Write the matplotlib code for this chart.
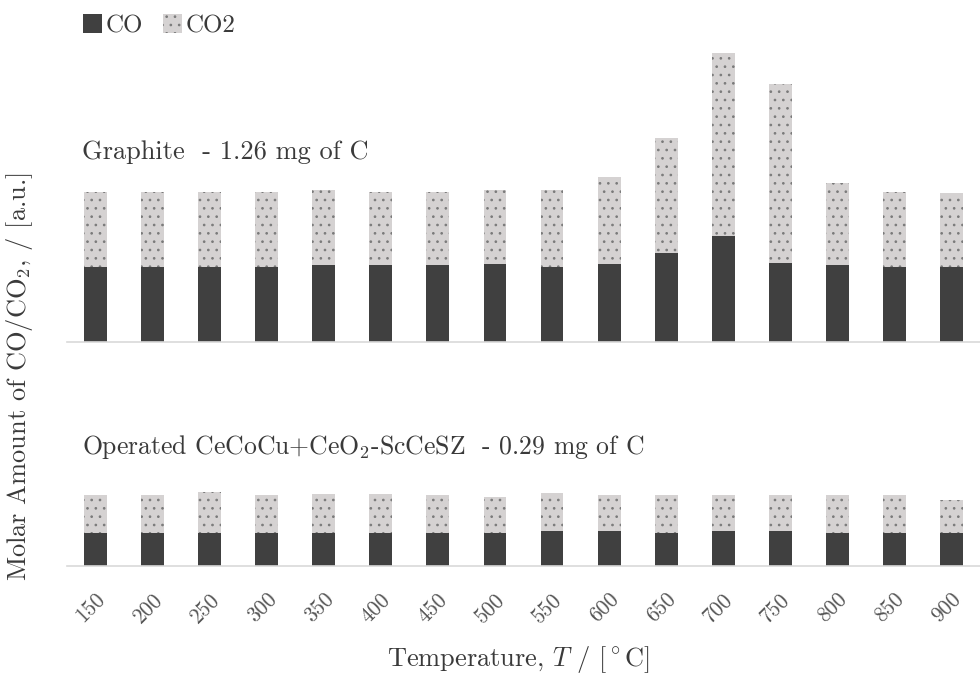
import numpy as np
import matplotlib
matplotlib.use("Agg")
import matplotlib.pyplot as plt
from matplotlib.patches import Patch

plt.rcParams['font.family'] = ['cmr10', 'DejaVu Serif']
plt.rcParams['mathtext.fontset'] = 'cm'
plt.rcParams['axes.formatter.use_mathtext'] = True
plt.rcParams['hatch.linewidth'] = 0.7

# temperatures (x categories)
temps = ['150', '200', '250', '300', '350', '400', '450', '500',
         '550', '600', '650', '700', '750', '800', '850', '900']

# graphite - 1.26 mg of C (arbitrary units)
co_graphite = [75, 75, 75, 75, 77, 77, 77, 78, 75, 78, 89, 106, 79, 77, 75, 75]
co2_graphite = [75, 75, 75, 75, 75, 73, 73, 74, 77, 87, 115, 183, 179, 82, 75, 74]

# operated CeCoCu+CeO2-ScCeSZ - 0.29 mg of C
co_operated = [33, 33, 33, 33, 33, 33, 33, 33, 35, 35, 33, 35, 35, 33, 33, 33]
co2_operated = [38, 38, 41, 38, 39, 39, 38, 36, 38, 36, 38, 36, 36, 38, 38, 33]

c_co = '#404040'
c_co2 = '#d5d2d2'
c_dots = '#7a7a7a'
c_text = '#3a3a3a'

fig = plt.figure(figsize=(9.8, 6.8), dpi=100)
left = 67 / 980
width = 1 - left
ax1 = fig.add_axes([left, 1 - 342 / 680, width, 302 / 680])
ax2 = fig.add_axes([left, 1 - 566 / 680, width, 130 / 680])

x = np.arange(len(temps))
bw = 0.4

for ax, co, co2, top in [(ax1, co_graphite, co2_graphite, 302),
                         (ax2, co_operated, co2_operated, 130)]:
    ax.bar(x, co, bw, color=c_co, linewidth=0)
    ax.bar(x, co2, bw, bottom=co, color=c_co2, edgecolor=c_dots,
           hatch='..', linewidth=0)
    ax.set_xlim(-0.5, len(temps) - 0.5)
    ax.set_ylim(0, top)
    for s in ['top', 'right', 'left']:
        ax.spines[s].set_visible(False)
    ax.spines['bottom'].set_color('#d9d9d9')
    ax.spines['bottom'].set_linewidth(1.2)
    ax.set_yticks([])
    ax.tick_params(axis='x', length=0)

ax1.set_xticks([])
ax2.set_xticks(x)
ax2.set_xticklabels(temps, rotation=45, ha='right', va='top',
                    rotation_mode='anchor', fontsize=15.5, color='#555555')
ax2.tick_params(axis='x', pad=17)

ax1.text(-0.24, 190, 'Graphite  - 1.26 mg of C', fontsize=19,
         va='center', ha='left', color=c_text)
ax2.text(-0.24, 119, 'Operated CeCoCu+CeO$_2$-ScCeSZ  - 0.29 mg of C',
         fontsize=18.5, va='center', ha='left', color=c_text)

fig.text(0.02, 0.446, 'Molar Amount of CO/CO$_2$, / [a.u.]', rotation=90,
         va='center', ha='center', fontsize=19, color=c_text)
fig.text(0.529, 0.03, r'Temperature, $T$ / [$^\circ$C]', va='center',
         ha='center', fontsize=19, color=c_text)

handles = [Patch(facecolor=c_co, linewidth=0),
           Patch(facecolor=c_co2, edgecolor=c_dots, hatch='..', linewidth=0)]
fig.legend(handles, ['CO', 'CO2'], loc='upper left',
           bbox_to_anchor=(0.062, 1.012), ncol=2, frameon=False, fontsize=18,
           handlelength=0.75, handleheight=0.75, handletextpad=0.15,
           columnspacing=0.8, labelcolor=c_text)

fig.savefig('out.png', dpi=100)
